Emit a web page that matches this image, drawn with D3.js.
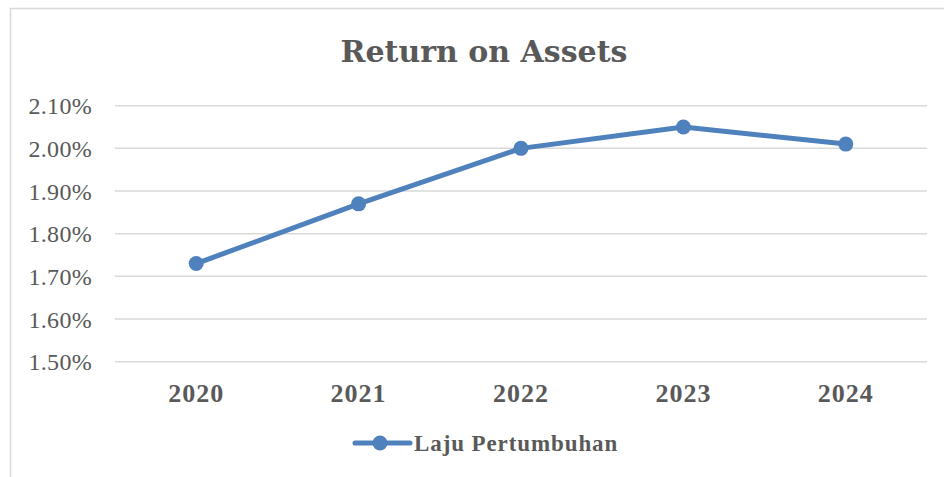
<!DOCTYPE html>
<html>
<head>
<meta charset="utf-8">
<script src="https://cdn.jsdelivr.net/npm/d3@7"></script>
<style>
    body { margin: 0; background: #fff; }
    .tick text { fill: #595959; }
</style>
</head>
<body>
<div id="chart"></div>
<script>
// data
const years = ["2020", "2021", "2022", "2023", "2024"];
const roaValues = [0.0173, 0.0187, 0.0200, 0.0205, 0.0201];
const yTicks = [0.015, 0.016, 0.017, 0.018, 0.019, 0.020, 0.021];
const seriesName = "Laju Pertumbuhan";
const chartTitle = "Return on Assets";

function drawChart() {
    const w = 944;
    const h = 477;
    const lineColor = "#4f81bd";
    const textColor = "#595959";
    const gridColor = "#d9d9d9";

    const svg = d3.select("#chart")
        .append("svg")
        .attr("width", w)
        .attr("height", h);

    // chart area border (right / bottom edges fall outside the picture)
    svg.append("rect")
        .attr("x", 10.5)
        .attr("y", 8.5)
        .attr("width", w + 20)
        .attr("height", h + 20)
        .attr("fill", "#fff")
        .attr("stroke", gridColor)
        .attr("stroke-width", 1.5);

    const xScale = d3.scaleBand()
        .domain(years)
        .range([115, 927])
        .padding(0);

    const yScale = d3.scaleLinear()
        .domain([0.015, 0.021])
        .range([361.7, 105.7]);

    // gridlines
    svg.append("g")
        .selectAll("line")
        .data(yTicks)
        .enter()
        .append("line")
        .attr("x1", 115)
        .attr("x2", 927)
        .attr("y1", function (d) { return yScale(d); })
        .attr("y2", function (d) { return yScale(d); })
        .attr("stroke", gridColor)
        .attr("stroke-width", 1.5);

    // y axis labels
    const yAxis = d3.axisLeft(yScale)
        .tickValues(yTicks)
        .tickSize(0)
        .tickPadding(0)
        .tickFormat(d3.format(".2%"));

    const yG = svg.append("g")
        .attr("transform", "translate(92, 0)")
        .call(yAxis);
    yG.select(".domain").remove();
    yG.selectAll("text")
        .attr("dy", "0.34em")
        .style("font-family", "'Liberation Serif', serif")
        .style("font-size", "24px")
        .style("letter-spacing", "0.3px")
        .attr("fill", textColor);

    // x axis labels
    const xAxis = d3.axisBottom(xScale)
        .tickSize(0)
        .tickPadding(0);

    const xG = svg.append("g")
        .attr("transform", "translate(0, 401.5)")
        .call(xAxis);
    xG.select(".domain").remove();
    xG.selectAll("text")
        .attr("dy", 0)
        .attr("y", 0)
        .style("font-family", "'Liberation Serif', serif")
        .style("font-weight", "bold")
        .style("font-size", "26px")
        .style("letter-spacing", "1px")
        .attr("fill", textColor);

    // title
    svg.append("text")
        .attr("x", 484)
        .attr("y", 62)
        .attr("text-anchor", "middle")
        .style("font-family", "'DejaVu Serif', serif")
        .style("font-weight", "bold")
        .style("font-size", "30px")
        .attr("fill", textColor)
        .text(chartTitle);

    const points = years.map(function (y, i) {
        return { year: y, value: roaValues[i] };
    });

    const line = d3.line()
        .x(function (d) { return xScale(d.year) + xScale.bandwidth() / 2; })
        .y(function (d) { return yScale(d.value); });

    svg.append("path")
        .datum(points)
        .attr("d", line)
        .attr("fill", "none")
        .attr("stroke", lineColor)
        .attr("stroke-width", 5)
        .attr("stroke-linejoin", "round");

    svg.selectAll("circle.marker")
        .data(points)
        .enter()
        .append("circle")
        .attr("class", "marker")
        .attr("cx", function (d) { return xScale(d.year) + xScale.bandwidth() / 2; })
        .attr("cy", function (d) { return yScale(d.value); })
        .attr("r", 7.5)
        .attr("fill", lineColor);

    // legend
    const legend = svg.append("g")
        .attr("transform", "translate(355, 443)");

    legend.append("line")
        .attr("x1", 0)
        .attr("x2", 55)
        .attr("y1", 0)
        .attr("y2", 0)
        .attr("stroke", lineColor)
        .attr("stroke-width", 5)
        .attr("stroke-linecap", "round");

    legend.append("circle")
        .attr("cx", 25)
        .attr("cy", 0)
        .attr("r", 7.5)
        .attr("fill", lineColor);

    legend.append("text")
        .attr("x", 59)
        .attr("y", 8)
        .style("font-family", "'Liberation Serif', serif")
        .style("font-weight", "bold")
        .style("font-size", "23px")
        .style("letter-spacing", "0.9px")
        .attr("fill", textColor)
        .text(seriesName);
}

drawChart();
</script>
</body>
</html>
